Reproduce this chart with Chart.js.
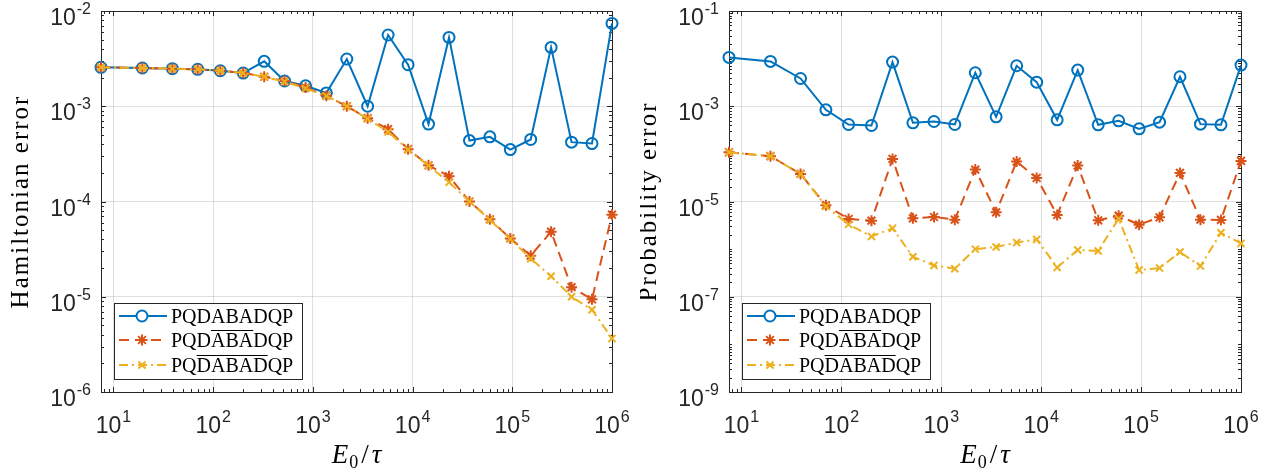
<!DOCTYPE html>
<html>
<head>
<meta charset="utf-8">
<script src="https://cdn.jsdelivr.net/npm/chart.js@4"></script>
<style>
  body { margin: 0; background: #fff; }
  #wrap { position: relative; width: 1278px; height: 475px; }
  canvas { position: absolute; top: 0; }
  #hamChart { left: 0; }
  #probChart { left: 640px; }
</style>
</head>
<body>
<div id="wrap">
  <canvas id="hamChart" width="640" height="475"></canvas>
  <canvas id="probChart" width="638" height="475"></canvas>
</div>
<script>
// E0/tau values (shared x for both panels)
const eTau = [7.5, 19.5, 39, 70, 118, 200, 325, 520, 845, 1365, 2190, 3540, 5680, 9010,
  14450, 23200, 37200, 59600, 95500, 153000, 245000, 393000, 630000, 1000000];

// Hamiltonian error
const hamBlue = [2.56e-3, 2.52e-3, 2.48e-3, 2.44e-3, 2.36e-3, 2.23e-3, 2.96e-3, 1.84e-3, 1.64e-3, 1.38e-3,
  3.13e-3, 1.0e-3, 5.6e-3, 2.73e-3, 6.5e-4, 5.28e-3, 4.36e-4, 4.77e-4, 3.51e-4, 4.48e-4,
  4.15e-3, 4.2e-4, 4.06e-4, 7.41e-3];
const hamRed = [2.56e-3, 2.52e-3, 2.48e-3, 2.44e-3, 2.36e-3, 2.23e-3, 2.04e-3, 1.84e-3, 1.57e-3, 1.29e-3,
  1.0e-3, 7.5e-4, 5.74e-4, 3.54e-4, 2.4e-4, 1.84e-4, 1.0e-4, 6.5e-5, 4.1e-5, 2.7e-5,
  4.82e-5, 1.26e-5, 9.4e-6, 7.28e-5];
const hamYellow = [2.56e-3, 2.52e-3, 2.48e-3, 2.44e-3, 2.36e-3, 2.23e-3, 2.04e-3, 1.81e-3, 1.54e-3, 1.28e-3,
  1.0e-3, 7.4e-4, 5.38e-4, 3.5e-4, 2.38e-4, 1.59e-4, 1.0e-4, 6.4e-5, 4.05e-5, 2.51e-5,
  1.64e-5, 1.0e-5, 7.3e-6, 3.65e-6];

// Probability error
const probBlue = [1.06e-2, 8.74e-3, 3.83e-3, 8.4e-4, 4.14e-4, 3.94e-4, 8.45e-3, 4.49e-4, 4.79e-4, 4.14e-4,
  5.05e-3, 6.0e-4, 7.08e-3, 3.21e-3, 5.19e-4, 5.74e-3, 4.07e-4, 4.95e-4, 3.35e-4, 4.63e-4,
  4.16e-3, 4.21e-4, 4.07e-4, 7.31e-3];
const probRed = [1.08e-4, 8.93e-5, 3.8e-5, 8.3e-6, 4.29e-6, 3.96e-6, 7.83e-5, 4.43e-6, 4.73e-6, 4.16e-6,
  4.68e-5, 5.93e-6, 6.89e-5, 3.12e-5, 5.21e-6, 5.67e-5, 4.03e-6, 5.05e-6, 3.26e-6, 4.65e-6,
  3.98e-5, 4.16e-6, 4.1e-6, 7.11e-5];
const probYellow = [1.08e-4, 8.9e-5, 3.8e-5, 7.9e-6, 3.31e-6, 1.85e-6, 2.73e-6, 6.92e-7, 4.55e-7, 3.87e-7,
  1.0e-6, 1.11e-6, 1.37e-6, 1.6e-6, 4.13e-7, 9.57e-7, 9.12e-7, 4.37e-6, 3.63e-7, 4.0e-7,
  8.69e-7, 4.4e-7, 2.21e-6, 1.32e-6];

// tick exponents and legend text
const xTickExps = [1, 2, 3, 4, 5, 6];
const hamTickExps = [-2, -3, -4, -5, -6];
const probTickExps = [-1, -3, -5, -7, -9];
const seriesNames = ['PQDABADQP', 'PQDABADQP', 'PQDABADQP'];
const overlineSpans = [null, [3, 6], [2, 7]];

const BLUE = '#0072BD', RED = '#D95319', YELLOW = '#EDB120';
const AXIS = '#262626';
const GRID = 'rgba(38,38,38,0.15)';

const styles = [
  { color: BLUE, dash: [], marker: 'circle', radius: 5.5 },
  { color: RED, dash: [10, 6], marker: 'star', radius: 5.5 },
  { color: YELLOW, dash: [9, 4, 2, 4], marker: 'crossRot', radius: 5 }
];

function pts(ys) {
  return eTau.map((x, i) => ({ x: x, y: ys[i] }));
}

function drawMarker(ctx, type, x, y, r) {
  ctx.beginPath();
  if (type === 'circle') {
    ctx.arc(x, y, r, 0, Math.PI * 2);
  } else if (type === 'star') {
    ctx.moveTo(x - r, y); ctx.lineTo(x + r, y);
    ctx.moveTo(x, y - r); ctx.lineTo(x, y + r);
    const d = r * 0.707;
    ctx.moveTo(x - d, y - d); ctx.lineTo(x + d, y + d);
    ctx.moveTo(x - d, y + d); ctx.lineTo(x + d, y - d);
  } else {
    const d = r * 0.707;
    ctx.moveTo(x - d, y - d); ctx.lineTo(x + d, y + d);
    ctx.moveTo(x - d, y + d); ctx.lineTo(x + d, y - d);
  }
  ctx.stroke();
}

function drawPow(ctx, exp, x, baseY, align) {
  const base = '10', sup = String(exp);
  ctx.font = '23px "Liberation Sans", Arial, sans-serif';
  const w1 = ctx.measureText(base).width;
  ctx.font = '16px "Liberation Sans", Arial, sans-serif';
  const w2 = ctx.measureText(sup).width;
  const total = w1 + w2 + 1;
  const sx = align === 'right' ? x - total : x - total / 2;
  ctx.textAlign = 'left';
  ctx.textBaseline = 'alphabetic';
  ctx.font = '23px "Liberation Sans", Arial, sans-serif';
  ctx.fillText(base, sx, baseY);
  ctx.font = '16px "Liberation Sans", Arial, sans-serif';
  ctx.fillText(sup, sx + w1 + 1, baseY - 11);
}

function axisPlugin(cfg) {
  return {
    id: 'matlabAxes',
    beforeDatasetsDraw(chart) {
      const ctx = chart.ctx, a = chart.chartArea;
      const xs = chart.scales.x, ys = chart.scales.y;
      ctx.save();
      ctx.strokeStyle = AXIS;
      ctx.lineWidth = 1;
      ctx.beginPath();
      // x ticks (inward, top and bottom)
      for (let k = 0; k <= 6; k++) {
        for (let m = 1; m <= 9; m++) {
          const v = m * Math.pow(10, k);
          if (v < xs.min || v > xs.max) continue;
          const px = Math.round(xs.getPixelForValue(v)) + 0.5;
          const len = m === 1 ? 5 : 3;
          ctx.moveTo(px, a.bottom); ctx.lineTo(px, a.bottom - len);
          ctx.moveTo(px, a.top); ctx.lineTo(px, a.top + len);
        }
      }
      // y ticks (inward, left and right)
      const lo = Math.round(Math.log10(ys.min)), hi = Math.round(Math.log10(ys.max));
      for (let k = lo; k <= hi; k++) {
        for (let m = 1; m <= 9; m++) {
          const v = m * Math.pow(10, k);
          if (v < ys.min * 0.999 || v > ys.max * 1.001) continue;
          const py = Math.round(ys.getPixelForValue(v)) + 0.5;
          const len = (m === 1 && cfg.yTickExps.includes(k)) ? 5 : 3;
          ctx.moveTo(a.left, py); ctx.lineTo(a.left + len, py);
          ctx.moveTo(a.right, py); ctx.lineTo(a.right - len, py);
        }
      }
      ctx.stroke();
      ctx.strokeRect(Math.round(a.left) + 0.5, Math.round(a.top) + 0.5,
        Math.round(a.right - a.left), Math.round(a.bottom - a.top));

      // tick labels
      ctx.fillStyle = AXIS;
      xTickExps.forEach(e => {
        const px = xs.getPixelForValue(Math.pow(10, e));
        drawPow(ctx, e, px, a.bottom + 41, 'center');
      });
      cfg.yTickExps.forEach(e => {
        const py = ys.getPixelForValue(Math.pow(10, e));
        drawPow(ctx, e, a.left - 10, py + 14, 'right');
      });

      // y title
      ctx.save();
      ctx.translate(a.left - 73, (a.top + a.bottom) / 2);
      ctx.rotate(-Math.PI / 2);
      ctx.font = '25px "Liberation Serif", "Times New Roman", serif';
      ctx.letterSpacing = '2px';
      ctx.textAlign = 'center';
      ctx.textBaseline = 'alphabetic';
      ctx.fillStyle = '#000';
      ctx.fillText(cfg.yTitle, 0, 0);
      ctx.restore();

      // x title: E_0 / tau
      const parts = [
        { t: 'E', f: 'italic 27px "Liberation Serif", serif', dy: 0, gap: 1 },
        { t: '0', f: '18px "Liberation Serif", serif', dy: 5, gap: 3 },
        { t: '/', f: '27px "Liberation Serif", serif', dy: 0, gap: 3 },
        { t: 'τ', f: 'italic 27px "Liberation Serif", serif', dy: 0, gap: 0 }
      ];
      let tw = 0;
      parts.forEach(p => { ctx.font = p.f; p.w = ctx.measureText(p.t).width; tw += p.w + p.gap; });
      let cx = (a.left + a.right) / 2 - tw / 2;
      ctx.fillStyle = '#000';
      ctx.textAlign = 'left';
      parts.forEach(p => {
        ctx.font = p.f;
        ctx.fillText(p.t, cx, 463 + p.dy);
        cx += p.w + p.gap;
      });
      ctx.restore();
    },
    afterDraw(chart) {
      const ctx = chart.ctx, a = chart.chartArea;
      const bx = Math.round(a.left) + 13, by = Math.round(a.top) + 292, bw = 188, bh = 76;
      ctx.save();
      ctx.fillStyle = '#fff';
      ctx.fillRect(bx, by, bw, bh);
      ctx.strokeStyle = AXIS;
      ctx.lineWidth = 1;
      ctx.strokeRect(bx + 0.5, by + 0.5, bw, bh);
      const rows = [13, 37, 62];
      ctx.font = '20px "Liberation Serif", "Times New Roman", serif';
      ctx.textAlign = 'left';
      ctx.textBaseline = 'alphabetic';
      seriesNames.forEach((name, i) => {
        const st = styles[i];
        const cy = by + rows[i];
        ctx.strokeStyle = st.color;
        ctx.lineWidth = 2;
        ctx.setLineDash(st.dash);
        ctx.beginPath();
        ctx.moveTo(bx + 5, cy); ctx.lineTo(bx + 53, cy);
        ctx.stroke();
        ctx.setLineDash([]);
        if (st.marker === 'circle') {
          ctx.fillStyle = '#fff';
          ctx.beginPath(); ctx.arc(bx + 28, cy, st.radius, 0, Math.PI * 2); ctx.fill();
        }
        drawMarker(ctx, st.marker, bx + 28, cy, st.radius);
        const tx = bx + 57, ty = cy + 7;
        ctx.fillStyle = '#000';
        ctx.fillText(name, tx, ty);
        const span = overlineSpans[i];
        if (span) {
          const x0 = tx + ctx.measureText(name.slice(0, span[0])).width;
          const x1 = tx + ctx.measureText(name.slice(0, span[1])).width;
          ctx.strokeStyle = '#000';
          ctx.lineWidth = 1;
          ctx.beginPath();
          ctx.moveTo(x0, ty - 16.5); ctx.lineTo(x1, ty - 16.5);
          ctx.stroke();
        }
      });
      ctx.restore();
    }
  };
}

function makeChart(id, cfg) {
  const sets = [cfg.blue, cfg.red, cfg.yellow].map((ys, i) => {
    const st = styles[i];
    return {
      label: seriesNames[i],
      data: pts(ys),
      borderColor: st.color,
      borderWidth: 2,
      borderDash: st.dash,
      pointStyle: st.marker,
      pointRadius: st.radius,
      pointBorderWidth: 2,
      pointBorderColor: st.color,
      pointBackgroundColor: 'rgba(0,0,0,0)',
      tension: 0,
      clip: false,
      order: 2 - i
    };
  });

  return new Chart(document.getElementById(id), {
    type: 'line',
    data: { datasets: sets },
    options: {
      responsive: false,
      animation: false,
      devicePixelRatio: 1,
      layout: { padding: cfg.padding },
      plugins: { legend: { display: false }, tooltip: { enabled: false } },
      scales: {
        x: {
          type: 'logarithmic',
          min: 7.5,
          max: 1e6,
          ticks: { display: false },
          grid: { color: GRID, lineWidth: 1, drawTicks: false },
          border: { display: false },
          afterBuildTicks: s => { s.ticks = xTickExps.map(e => ({ value: Math.pow(10, e) })); },
          afterFit: s => { s.height = 0; }
        },
        y: {
          type: 'logarithmic',
          min: cfg.yMin,
          max: cfg.yMax,
          ticks: { display: false },
          grid: { color: GRID, lineWidth: 1, drawTicks: false },
          border: { display: false },
          afterBuildTicks: s => { s.ticks = cfg.yTickExps.map(e => ({ value: Math.pow(10, e) })); },
          afterFit: s => { s.width = 0; }
        }
      }
    },
    plugins: [axisPlugin(cfg)]
  });
}

makeChart('hamChart', {
  blue: hamBlue, red: hamRed, yellow: hamYellow,
  yMin: 1e-6, yMax: 1e-2,
  yTickExps: hamTickExps,
  yTitle: 'Hamiltonian error',
  padding: { left: 101, right: 28, top: 11, bottom: 83 }
});

makeChart('probChart', {
  blue: probBlue, red: probRed, yellow: probYellow,
  yMin: 1e-9, yMax: 1e-1,
  yTickExps: probTickExps,
  yTitle: 'Probability error',
  padding: { left: 89, right: 37, top: 11, bottom: 83 }
});
</script>
</body>
</html>
